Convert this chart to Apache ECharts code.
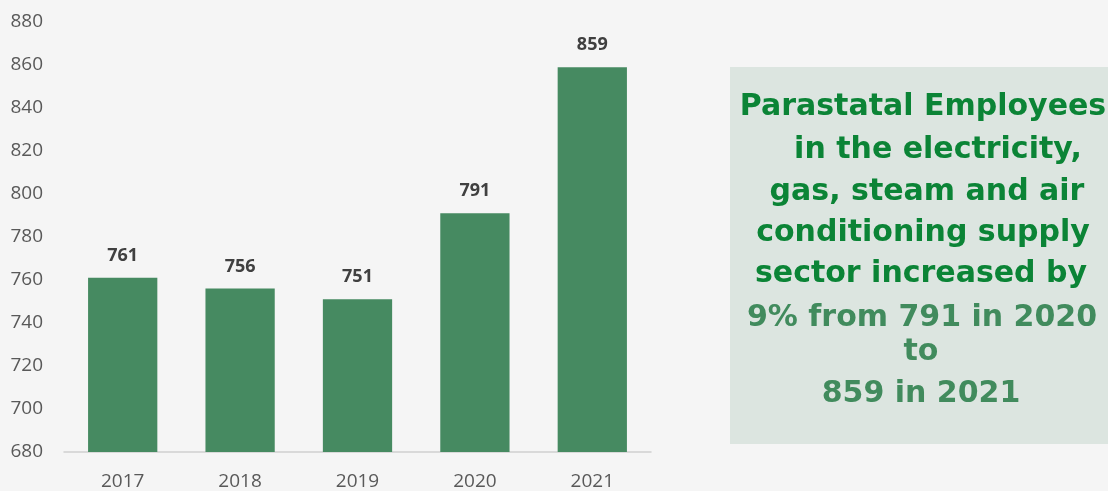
<!DOCTYPE html>
<html>
<head>
<meta charset="utf-8">
<script src="https://cdn.jsdelivr.net/npm/echarts@6/dist/echarts.min.js"></script>
<style>
  html, body { margin: 0; padding: 0; background: #f5f5f5; }
  #chart { width: 1108px; height: 491px; }
</style>
</head>
<body>
<div id="chart"></div>
<script>
// Parastatal employees, electricity / gas / steam / air conditioning supply
const years = ['2017', '2018', '2019', '2020', '2021'];
const employees = [761, 756, 751, 791, 859];
const yTicks = { min: 680, max: 880, step: 20 };

// Summary panel lines: [text, colour group, horizontal offset]
const noteLines = [
  ['Parastatal Employees', 'head', 2],
  ['in the electricity,', 'head', 17],
  ['gas, steam and air', 'head', 6],
  ['conditioning supply', 'head', 2],
  ['sector increased by', 'head', 0],
  ['9% from 791 in 2020', 'tail', 1],
  ['to', 'tail', 0],
  ['859 in 2021', 'tail', 0]
];
const noteY = [107, 150, 192, 233, 274, 318, 352, 394];

const chart = echarts.init(document.getElementById('chart'));

const noteColors = { head: '#0b8436', tail: '#418b5d' };
const noteCenter = 921;

const graphics = [
  {
    type: 'rect',
    shape: { x: 730, y: 67, width: 378, height: 377 },
    style: { fill: '#dce5e0' },
    silent: true
  }
].concat(noteLines.map((l, i) => ({
  type: 'text',
  x: noteCenter + l[2],
  y: noteY[i],
  style: {
    text: l[0],
    fill: noteColors[l[1]],
    font: 'bold 30px "DejaVu Sans", Verdana, sans-serif',
    align: 'center',
    verticalAlign: 'middle'
  },
  silent: true
})));

chart.setOption({
  backgroundColor: '#f5f5f5',
  animation: false,
  grid: { left: 64, right: 457, top: 22, bottom: 39 },
  xAxis: {
    type: 'category',
    data: years,
    axisLine: { lineStyle: { color: '#d0d0d0', width: 1.5 } },
    axisTick: { show: false },
    axisLabel: {
      color: '#595959',
      fontFamily: '"Open Sans", sans-serif',
      fontSize: 19,
      margin: 20
    }
  },
  yAxis: {
    type: 'value',
    min: yTicks.min,
    max: yTicks.max,
    interval: yTicks.step,
    axisLine: { show: false },
    axisTick: { show: false },
    splitLine: { show: false },
    axisLabel: {
      color: '#595959',
      fontFamily: '"Open Sans", sans-serif',
      fontSize: 19,
      margin: 21
    }
  },
  series: [{
    type: 'bar',
    data: employees,
    barWidth: '59%',
    itemStyle: { color: '#468a61' },
    label: {
      show: true,
      position: 'top',
      distance: 13,
      color: '#404040',
      fontWeight: 'bold',
      fontFamily: '"Open Sans", sans-serif',
      fontSize: 18
    }
  }],
  graphic: graphics
});
</script>
</body>
</html>
